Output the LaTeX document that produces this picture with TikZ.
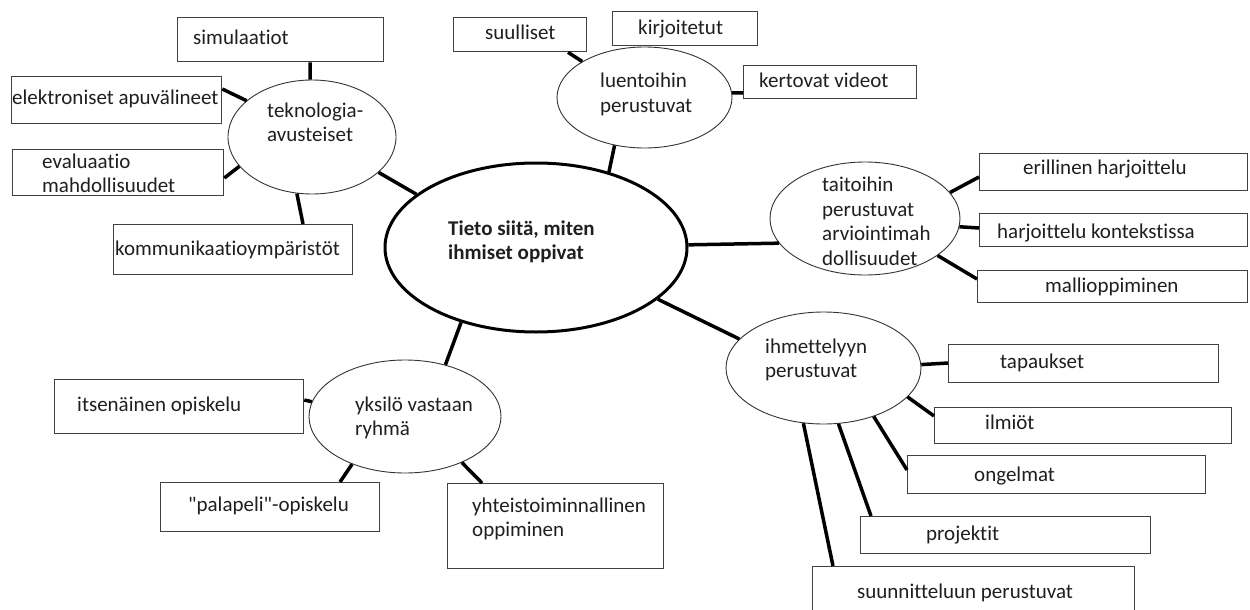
\documentclass[tikz,border=0pt]{standalone}
\usepackage{fontspec}
\setmainfont{Carlito}[Ligatures={NoCommon,TeXOff}]
\usetikzlibrary{shapes.geometric}
\newcommand{\mlines}[1]{\begin{tabular}[t]{@{}l@{}}#1\end{tabular}}
\tikzset{
  box/.style={draw=black!75, line width=1.3pt, inner sep=0pt, anchor=north west, fill=white},
  bub/.style={ellipse, draw=black!80, line width=0.9pt, inner sep=0pt, fill=white},
  hub/.style={ellipse, draw=black, line width=3pt, inner sep=0pt, fill=white},
  lbl/.style={anchor=base west, inner sep=0pt, text=black!88, font=\fontsize{21}{24.5}\selectfont},
  link/.style={line width=3.5pt, draw=black},
}
\begin{document}
\begin{tikzpicture}[x=1pt, y=-1pt]
\useasboundingbox (0,0) rectangle (1250,610);
\clip (0,0) rectangle (1250,610);
\fill[white] (0,0) rectangle (1250,610);

% ---- shapes ----
\node[box, minimum width=206pt, minimum height=44pt] (sim) at (177,17) {};
\node[box, minimum width=210pt, minimum height=47pt] (elek) at (11,76) {};
\node[box, minimum width=211pt, minimum height=46pt] (eval) at (12,149) {};
\node[box, minimum width=239pt, minimum height=50pt] (komm) at (113,224) {};
\node[bub, minimum width=168pt, minimum height=114pt] (tek) at (312,137) {};

\node[box, minimum width=133pt, minimum height=34pt] (suul) at (453,17) {};
\node[box, minimum width=145pt, minimum height=34pt] (kirj) at (612,11) {};
\node[bub, minimum width=175pt, minimum height=101pt] (luen) at (644.5,97.5) {};
\node[box, minimum width=173pt, minimum height=33pt] (kert) at (743,65) {};

\node[hub, minimum width=302pt, minimum height=169pt] (hub) at (536,247.5) {};

\node[bub, minimum width=190pt, minimum height=113pt] (tait) at (865,218.5) {};
\node[box, minimum width=268pt, minimum height=37pt] (eril) at (979,153) {};
\node[box, minimum width=268pt, minimum height=33pt] (harj) at (979,213) {};
\node[box, minimum width=270pt, minimum height=32pt] (mall) at (977,270) {};

\node[bub, minimum width=195pt, minimum height=112pt] (ihme) at (823.5,368) {};
\node[box, minimum width=270pt, minimum height=38pt] (tap) at (948,344) {};
\node[box, minimum width=297pt, minimum height=36pt] (ilm) at (934,407) {};
\node[box, minimum width=298pt, minimum height=38pt] (ong) at (907,455) {};
\node[box, minimum width=290pt, minimum height=37pt] (proj) at (860,516) {};
\node[box, minimum width=322pt, minimum height=60pt] (suun) at (812,566) {};

\node[bub, minimum width=192pt, minimum height=113pt] (yks) at (405,416.5) {};
\node[box, minimum width=249pt, minimum height=54pt] (its) at (54,379) {};
\node[box, minimum width=219pt, minimum height=49pt] (pala) at (160,482) {};
\node[box, minimum width=216pt, minimum height=85pt] (yht) at (447,483) {};

% ---- texts ----
\node[lbl] (sim-t) at (193,45) {simulaatiot};
\node[lbl] (elek-t) at (12,104) {elektroniset apuvälineet};
\node[lbl] (eval-t) at (42,168) {\mlines{evaluaatio\\mahdollisuudet}};
\node[lbl] (komm-t) at (115,255) {kommunikaatioympäristöt};
\node[lbl] (tek-t) at (267,117) {\mlines{teknologia-\\avusteiset}};

\node[lbl] (suul-t) at (485,39.5) {suulliset};
\node[lbl] (kirj-t) at (638,35) {kirjoitetut};
\node[lbl] (luen-t) at (600,88) {\mlines{luentoihin\\perustuvat}};
\node[lbl] (kert-t) at (759,87.5) {kertovat videot};

\node[lbl, font=\fontsize{21}{24.5}\selectfont\bfseries] (hub-t) at (448,235) {\mlines{Tieto siitä, miten\\ihmiset oppivat}};

\node[lbl] (tait-t) at (822,191.5) {\mlines{taitoihin\\perustuvat\\arviointimah\\dollisuudet}};
\node[lbl] (eril-t) at (1023,174) {erillinen harjoittelu};
\node[lbl] (harj-t) at (997,238) {harjoittelu kontekstissa};
\node[lbl] (mall-t) at (1045,292) {mallioppiminen};

\node[lbl] (ihme-t) at (765,353) {\mlines{ihmettelyyn\\perustuvat}};
\node[lbl] (tap-t) at (1000,368) {tapaukset};
\node[lbl] (ilm-t) at (985,429) {ilmiöt};
\node[lbl] (ong-t) at (974,481) {ongelmat};
\node[lbl] (proj-t) at (926,540) {projektit};
\node[lbl] (suun-t) at (857,598) {suunnitteluun perustuvat};

\node[lbl] (yks-t) at (355,411) {\mlines{yksilö vastaan\\ryhmä}};
\node[lbl] (its-t) at (77,411) {itsenäinen opiskelu};
\node[lbl] (pala-t) at (188,511) {"palapeli"-opiskelu};
\node[lbl] (yht-t) at (472,512) {\mlines{yhteistoiminnallinen\\oppiminen}};

% ---- connectors ----
\draw[link] ([xshift=133pt]sim.south west) -- (tek.92);
\draw[link] ([yshift=-13pt]elek.north east) -- (tek.151);
\draw[link] ([yshift=-29pt]eval.north east) -- (tek.202);
\draw[link] ([xshift=190pt]komm.north west) -- (tek.255);
\draw[link] (tek.332) -- (hub.156.5);

\draw[link] ([xshift=115pt]suul.south west) -- (luen.150);
\draw[link] (luen.3) -- ([yshift=-28pt]kert.north west);
\draw[link] (luen.238.7) -- (hub.46.4);

\draw[link] (hub.1) -- (tait.196);
\draw[link] (tait.17) -- ([yshift=-24pt]eril.north west);
\draw[link] (tait.-5.7) -- ([yshift=-15pt]harj.north west);
\draw[link] (tait.333.4) -- ([yshift=-9pt]mall.north west);

\draw[link] (hub.337.3) -- (ihme.161);
\draw[link] (ihme.2) -- ([yshift=-19pt]tap.north west);
\draw[link] (ihme.341.1) -- ([yshift=-9pt]ilm.north west);
\draw[link] (ihme.316.4) -- ([yshift=-15pt]ong.north west);
\draw[link] (ihme.285.7) -- ([xshift=11pt]proj.north west);
\draw[link] (ihme.250.5) -- ([xshift=21pt]suun.north west);

\draw[link] (hub.225.6) -- (yks.52.9);
\draw[link] (yks.171) -- ([yshift=-21pt]its.north east);
\draw[link] (yks.222.4) -- ([xshift=180pt]pala.north west);
\draw[link] (yks.321.9) -- ([xshift=35pt]yht.north west);
\end{tikzpicture}
\end{document}
